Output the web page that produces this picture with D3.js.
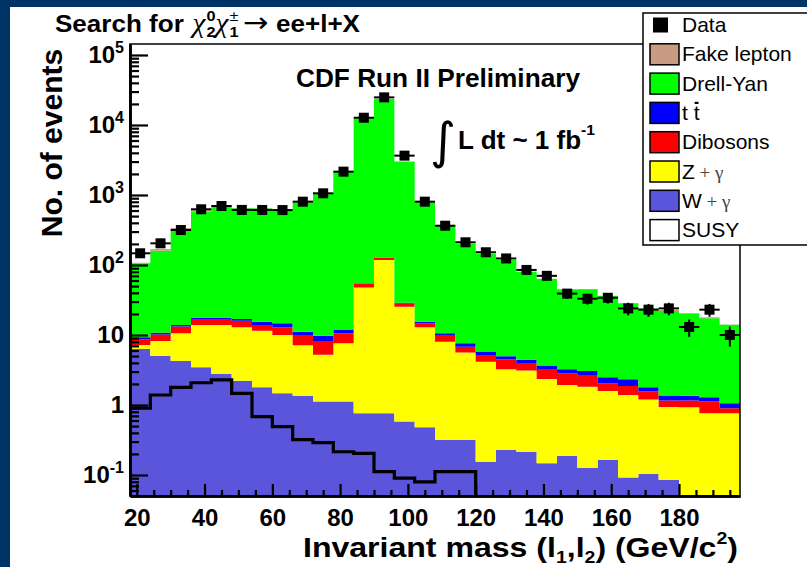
<!DOCTYPE html>
<html><head><meta charset="utf-8">
<script src="https://cdn.jsdelivr.net/npm/d3@7"></script>
<style>body{margin:0;background:#003366;} svg{display:block}</style>
</head><body>
<svg id="c" width="807" height="567"></svg>
<script>
// ---------- data ----------
const massBins = [18,24,30,36,42,48,54,60,66,72,78,84,90,96,102,108,114,120,126,132,138,144,150,156,162,168,174,180,186,192];
const binWidth = 6;
const wGamma     = [6.3,5.0,4.25,3.45,2.77,2.22,1.79,1.47,1.36,1.12,1.12,0.76,0.76,0.58,0.48,0.316,0.316,0.155,0.228,0.215,0.147,0.187,0.127,0.164,0.092,0.103,0.085,0,0,0];
const zGamma     = [0.9,3.2,6.35,10.45,11.1,10.7,9.7,8.5,5.8,4.1,6.5,47,117,24.8,12.4,7.7,5.3,4.0,3.0,2.9,2.2,1.74,1.70,1.42,1.30,1.10,0.85,0.93,0.76,0.76];
const dibosons   = [1.5,2.0,2.6,3.0,3.0,3.1,2.4,2.9,2.8,2.8,3.0,6.7,9,2.9,1.8,2.0,1.2,1.04,1.26,0.85,0.91,0.9,0.79,0.46,0.48,0.35,0.22,0.23,0.36,0.14];
const ttbar      = [0.58,0.6,0.7,0.8,0.8,0.9,1.6,1.8,1.2,1.7,1.4,0.5,1,0.5,0.8,0.6,0.8,0.6,0.5,0.46,0.41,0.41,0.44,0.44,0.46,0.24,0.21,0.2,0.17,0.16];
const drellYan   = [97,149,295,557,678,628,630,595,769,1047,2143,12395,23372,2971,775,353,192,138,113,75.6,59.4,41.8,40.9,33.5,26,22.2,20.6,19,16,12.9];
const fakeLepton = [1,10,28,35,8,8,6,6,6,8,10,30,50,15,5,2,2,1,1,0.5,0.5,0.5,1.5,0.4,0.3,0.3,0.8,0.3,0.7,0.2];
const dataCounts = [147,204,316,625,696,612,611,609,803,1057,2155,12700,24800,3650,803,364,211,152,124,85,70,39,33,34,24,23,24,13,23,10];
const susy       = [0.9,1.39,1.79,2.08,2.28,1.47,0.68,0.49,0.32,0.29,0.215,0.204,0.112,0.09,0.08,0.112,0.112,0,0,0,0,0,0,0,0,0,0,0,0,0];
const xTickLabels = [20,40,60,80,100,120,140,160,180];
const yTickValues = [0.1,1,10,100,1000,10000,100000];
const legendLabels = ["Data","Fake lepton","Drell-Yan","t t","Dibosons","Z + γ","W + γ","SUSY"];
const legendColors = ["#000000","#c89b82","#00ff00","#0000ff","#ff0000","#ffff00","#5a55da","#ffffff"];

// ---------- setup ----------
const svg = d3.select("#c");
const SANS = "'Liberation Sans', Arial, Helvetica, sans-serif";
const SERIF = "'Liberation Serif', 'Times New Roman', serif";
svg.append("rect").attr("width",807).attr("height",567).attr("fill","#003366");
svg.append("rect").attr("x",10).attr("y",7).attr("width",797).attr("height",560).attr("fill","#fff");

const X0=130, X1=740, Y0=44, Y1=496;
const x = d3.scaleLinear().domain([18,198]).range([X0,X1]);
const yMin = Math.pow(10,-1.3), yMax = Math.pow(10,5.157);
const y = d3.scaleLog().domain([yMin,yMax]).range([Y1,Y0]);
const yy = v => v > 0 ? y(Math.max(v, yMin)) : Y1 + 20;

svg.append("defs").append("clipPath").attr("id","pc")
  .append("rect").attr("x",X0).attr("y",Y0).attr("width",X1-X0).attr("height",Y1-Y0);
const plot = svg.append("g").attr("clip-path","url(#pc)");

// ---------- stacked histograms ----------
const layers = [
  {values:wGamma, color:legendColors[6]},
  {values:zGamma, color:legendColors[5]},
  {values:dibosons, color:legendColors[4]},
  {values:ttbar, color:legendColors[3]},
  {values:drellYan, color:legendColors[2]},
  {values:fakeLepton, color:legendColors[1]}
];
let cum = massBins.map(()=>0);
layers.forEach(L => {
  const lo = cum.slice();
  const hi = cum.map((c,i)=>c + L.values[i]);
  cum = hi;
  const pts = massBins.map((b,i)=>({x:b, lo:lo[i], hi:hi[i]}));
  pts.push({x:massBins[massBins.length-1]+binWidth, lo:lo[lo.length-1], hi:hi[hi.length-1]});
  const area = d3.area().x(d=>x(d.x)).y0(d=>yy(d.lo)).y1(d=>yy(d.hi)).curve(d3.curveStepAfter);
  plot.append("path").attr("d", area(pts)).attr("fill", L.color);
});

// ---------- SUSY line ----------
const sp = massBins.map((b,i)=>({x:b, v:susy[i]}));
sp.push({x:massBins[massBins.length-1]+binWidth, v:susy[susy.length-1]});
plot.append("path")
  .attr("d", d3.line().x(d=>x(d.x)).y(d=>yy(d.v)).curve(d3.curveStepAfter)(sp))
  .attr("fill","none").attr("stroke","#000").attr("stroke-width",3.2);

// ---------- axes ----------
const fontAx = g => g.attr("font-family",SANS).attr("font-weight","bold").attr("font-size",24);
const minorX = d3.range(20,198,5).filter(v=>v%20!==0);
const gXm = svg.append("g").attr("transform",`translate(0,${Y1})`)
  .call(d3.axisBottom(x).tickValues(minorX).tickSize(-6).tickSizeOuter(0).tickFormat(""));
const gX = svg.append("g").attr("transform",`translate(0,${Y1})`)
  .call(d3.axisBottom(x).tickValues(xTickLabels).tickSize(-12).tickSizeOuter(0).tickPadding(13).tickFormat(d3.format("d")));
fontAx(gX);
gX.selectAll(".tick text").attr("fill","#000");

const minorY = [];
[-2,-1,0,1,2,3,4].forEach(e => { for (let k=2;k<=9;k++){ const v=k*Math.pow(10,e); if (v>yMin*0.999 && v<yMax) minorY.push(v);} });
const gYm = svg.append("g").attr("transform",`translate(${X0},0)`)
  .call(d3.axisLeft(y).tickValues(minorY).tickSize(-9).tickSizeOuter(0).tickFormat(""));
const gY = svg.append("g").attr("transform",`translate(${X0},0)`)
  .call(d3.axisLeft(y).tickValues(yTickValues).tickSize(-18).tickSizeOuter(0).tickPadding(6));
fontAx(gY);
gY.selectAll(".tick text").each(function(d){
  const t = d3.select(this); t.text(null).attr("fill","#000");
  const e = Math.round(Math.log10(d));
  if (e===0) t.text("1");
  else if (e===1) t.text("10");
  else { t.append("tspan").text("10"); t.append("tspan").attr("dy",-10).attr("font-size",16).text(e); }
});
[gX,gXm,gY,gYm].forEach(g=>{
  g.selectAll(".tick line").attr("stroke","#000").attr("stroke-width",2.2);
  g.select(".domain").attr("stroke","#000").attr("stroke-width",2.6);
});

// ---------- frame ----------
svg.append("rect").attr("x",X0).attr("y",Y0).attr("width",X1-X0).attr("height",Y1-Y0)
  .attr("fill","none").attr("stroke","#000").attr("stroke-width",1.5);

// ---------- data points ----------
const gD = svg.append("g");
dataCounts.forEach((N,i)=>{
  const cx = x(massBins[i]+binWidth/2), cy = y(N), e = Math.sqrt(N);
  gD.append("line").attr("x1",x(massBins[i])).attr("x2",x(massBins[i]+binWidth)).attr("y1",cy).attr("y2",cy)
    .attr("stroke","#000").attr("stroke-width",2);
  gD.append("line").attr("x1",cx).attr("x2",cx).attr("y1",y(N+e)).attr("y2",y(Math.max(N-e,yMin)))
    .attr("stroke","#000").attr("stroke-width",2);
  gD.append("rect").attr("x",cx-5).attr("y",cy-5).attr("width",10).attr("height",10).attr("fill","#000");
});

// ---------- rich text helper (optionally stretched to a target width) ----------
function rich(x0, base, pieces, target){
  const g = svg.append("g").attr("transform",`translate(${x0},${base})`);
  let cx = 0, end = 0;
  pieces.forEach(p=>{
    const t = g.append("text").attr("x",cx).attr("y",(p.dy||0))
      .attr("font-family",p.fam||SANS).attr("font-weight",p.w||"bold")
      .attr("font-style",p.st||"normal").attr("font-size",p.s).attr("fill",p.fill||"#000").text(p.t);
    const w = t.node().getComputedTextLength();
    end = Math.max(end, cx + w);
    if (!p.noAdv) cx += w + (p.gap||0);
  });
  if (target) g.attr("transform",`translate(${x0},${base}) scale(${target/end},1)`);
  return g;
}

// title
rich(55, 32, [
  {t:"Search for", s:24, gap:8},
  {t:"χ", s:27, fam:SERIF, w:"normal", st:"italic", gap:1},
  {t:"0", s:15, dy:-11, noAdv:true},
  {t:"2", s:15, dy:5},
  {t:"χ", s:27, fam:SERIF, w:"normal", st:"italic", gap:1},
  {t:"±", s:15, dy:-11, noAdv:true, w:"normal"},
  {t:"1", s:15, dy:5, gap:4},
  {t:"→", s:28, w:"normal", fam:"'DejaVu Sans', sans-serif", gap:7},
  {t:"ee+l+X", s:24}
], 305);

// y label
svg.append("text").attr("transform","translate(62,143) rotate(-90)").attr("text-anchor","middle")
  .attr("font-family",SANS).attr("font-weight","bold").attr("font-size",30).text("No. of events");

// x label
rich(303, 557, [
  {t:"Invariant mass (l", s:28},
  {t:"1", s:17, dy:6},
  {t:",l", s:28},
  {t:"2", s:17, dy:6},
  {t:") (GeV/c", s:28},
  {t:"2", s:17, dy:-13},
  {t:")", s:28}
], 435);

// CDF text
svg.append("text").attr("x",296).attr("y",87).attr("font-family",SANS).attr("font-weight","bold")
  .attr("font-size",25).attr("textLength",284).attr("lengthAdjust","spacingAndGlyphs").text("CDF Run II Preliminary");
svg.append("text").attr("x",430).attr("y",158).attr("font-family","'DejaVu Sans', sans-serif")
  .attr("font-size",50).text("∫");
rich(458, 149, [
  {t:"L dt ~ 1 fb", s:25},
  {t:"-1", s:15, dy:-14}
], 137);

// ---------- legend ----------
const gL = svg.append("g");
gL.append("rect").attr("x",643).attr("y",13).attr("width",200).attr("height",232)
  .attr("fill","#fff").attr("stroke","#000").attr("stroke-width",1.5);
legendLabels.forEach((lab,i)=>{
  const cy = 25 + i*29.3;
  if (i===0) {
    gL.append("rect").attr("x",653).attr("y",cy-7.5).attr("width",15).attr("height",15).attr("fill","#000");
  } else {
    gL.append("rect").attr("x",650).attr("y",cy-10.5).attr("width",29).attr("height",21)
      .attr("fill",legendColors[i]).attr("stroke","#000").attr("stroke-width",1.5);
  }
  const t = gL.append("text").attr("x",682).attr("y",cy+7).attr("font-family",SANS).attr("font-size",21);
  if (lab.includes("γ")) {
    t.append("tspan").text(lab.split(" ")[0]);
    t.append("tspan").attr("font-family",SERIF).attr("font-size",19).attr("fill","#444").text(" + γ");
  } else t.text(lab);
  if (i===3) {
    const n = t.node();
    const s = n.getStartPositionOfChar(2).x, e = n.getEndPositionOfChar(2).x;
    gL.append("line").attr("x1",s+1).attr("x2",e-1).attr("y1",cy-10).attr("y2",cy-10)
      .attr("stroke","#000").attr("stroke-width",2.2);
  }
});
</script>
</body></html>
